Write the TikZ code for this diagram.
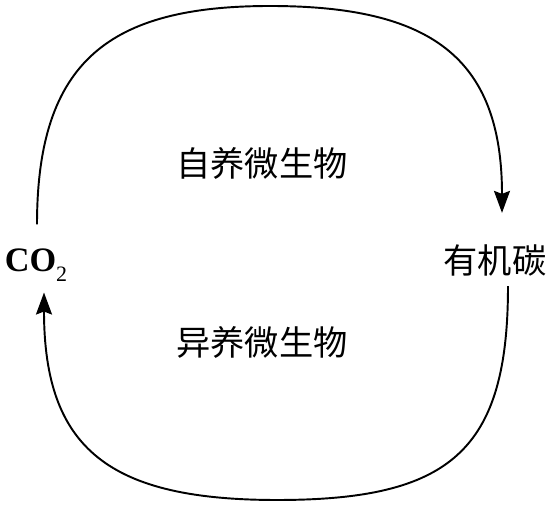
\documentclass[tikz,border=0pt]{standalone}
\usepackage{fontspec}
\setmainfont{Liberation Serif}
\newfontfamily\cjk{Noto Sans CJK SC}
\usetikzlibrary{arrows.meta,calc}

\begin{document}
\begin{tikzpicture}[
    x=0.02cm, y=-0.02cm,
    lbl/.style={inner sep=0pt, font=\cjk\fontsize{19.5}{20}\selectfont},
    chem/.style={inner sep=0pt, font=\bfseries\fontsize{19.5}{20}\selectfont},
    cyc/.style={-{Stealth[length=0.44cm, width=0.32cm, inset=0.06cm]},
                line width=1.1pt}
]
\useasboundingbox (0,0) rectangle (555,509);

%% CARBON POOLS
\node[chem] (co2) at (36,265)
    {CO\raisebox{-5.5pt}{\mdseries\fontsize{12.5}{12.5}\selectfont 2}};
\node[lbl] (corg) at (495,260) {有机碳};

%% MICROBES
\node[lbl] (auto) at (262,163) {自养微生物};
\node[lbl] (hetero) at (262,342) {异养微生物};

%% CO2 -> organic carbon (top)
\draw[cyc] ($(co2.north)+(1,-24)$)
    .. controls +(0,-164) and (110,6) .. (270,6)
    .. controls (430,6) and +(0,-156) .. ($(corg.north)+(7,-31)$);

%% organic carbon -> CO2 (bottom)
\draw[cyc] ($(corg.south)+(13,10)$)
    .. controls +(0,165) and (450,500) .. (277,500)
    .. controls (110,500) and +(0,157) .. ($(co2.south)+(8,11)$);

\end{tikzpicture}
\end{document}
